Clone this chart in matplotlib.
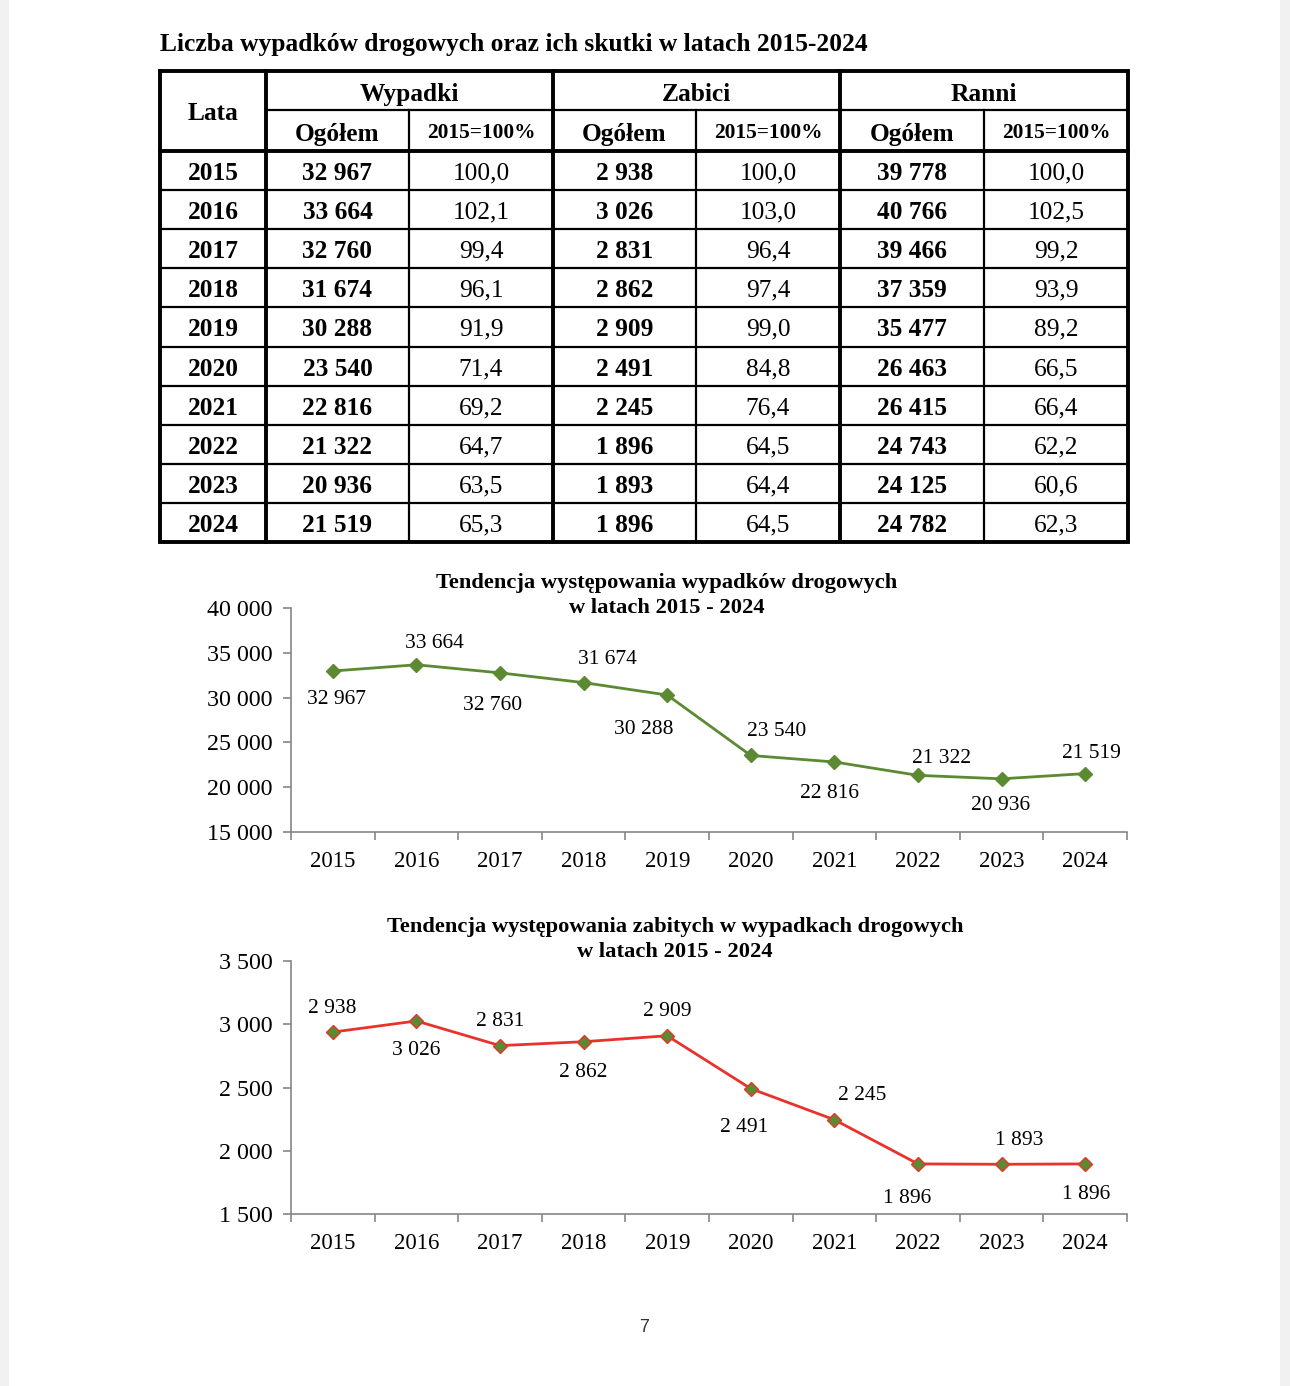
import numpy as np
import matplotlib
matplotlib.use("Agg")
import matplotlib.pyplot as plt
from matplotlib.patches import Rectangle

plt.rcParams['font.family'] = ['Liberation Serif', 'DejaVu Serif']

# --- data ---
years = [2015, 2016, 2017, 2018, 2019, 2020, 2021, 2022, 2023, 2024]
wypadki = [32967, 33664, 32760, 31674, 30288, 23540, 22816, 21322, 20936, 21519]
wypadki_pct = [100.0, 102.1, 99.4, 96.1, 91.9, 71.4, 69.2, 64.7, 63.5, 65.3]
zabici = [2938, 3026, 2831, 2862, 2909, 2491, 2245, 1896, 1893, 1896]
zabici_pct = [100.0, 103.0, 96.4, 97.4, 99.0, 84.8, 76.4, 64.5, 64.4, 64.5]
ranni = [39778, 40766, 39466, 37359, 35477, 26463, 26415, 24743, 24125, 24782]
ranni_pct = [100.0, 102.5, 99.2, 93.9, 89.2, 66.5, 66.4, 62.2, 60.6, 62.3]


def fmt_int(v):
    return f"{v:,.0f}".replace(",", " ")


def fmt_pct(v):
    return f"{v:.1f}".replace(".", ",")


W, H = 1290, 1386
fig = plt.figure(figsize=(W / 100, H / 100), dpi=100)
fig.patch.set_facecolor('white')

# page overlay in pixel coords
pg = fig.add_axes([0, 0, 1, 1])
pg.set_xlim(0, W)
pg.set_ylim(H, 0)
pg.axis('off')
pg.add_patch(Rectangle((0, 0), 9, H, color='#f1f1f1', lw=0))
pg.add_patch(Rectangle((1280, 0), 10, H, color='#f1f1f1', lw=0))

pg.text(160, 45, "Liczba wypadków drogowych oraz ich skutki w latach 2015-2024",
        fontsize=18.4, fontweight='bold', va='center', ha='left')

# --- table ---
col_x = [160, 266, 409, 553, 696, 840, 984, 1128]
top, h1, h2 = 71, 110, 151
row_h = (542 - 151) / 10
bottom = h2 + row_h * 10
thick, thin = 2.8, 1.6
fs = 18.3

pg.plot([col_x[0], col_x[-1], col_x[-1], col_x[0], col_x[0]],
        [top, top, bottom, bottom, top], color='black', lw=thick, solid_joinstyle='miter')
for x in (266, 553, 840):
    pg.plot([x, x], [top, bottom], color='black', lw=thick)
for x in (409, 696, 984):
    pg.plot([x, x], [h1, bottom], color='black', lw=thin)
pg.plot([266, 1128], [h1, h1], color='black', lw=thin)
pg.plot([160, 1128], [h2, h2], color='black', lw=thick)
for i in range(1, 10):
    y = h2 + row_h * i
    pg.plot([160, 1128], [y, y], color='black', lw=thin)

pg.text((160 + 266) / 2, (top + h2) / 2 + 3, "Lata", fontsize=fs, fontweight='bold',
        ha='center', va='center')
for name, (a, b) in zip(["Wypadki", "Zabici", "Ranni"], [(266, 553), (553, 840), (840, 1128)]):
    pg.text((a + b) / 2, (top + h1) / 2 + 4, name, fontsize=fs, fontweight='bold',
            ha='center', va='center')
for j in range(3):
    c = 1 + 2 * j
    pg.text((col_x[c] + col_x[c + 1]) / 2, (h1 + h2) / 2 + 4, "Ogółem", fontsize=fs,
            fontweight='bold', ha='center', va='center')
    pg.text((col_x[c + 1] + col_x[c + 2]) / 2, (h1 + h2) / 2 + 3, "2015=100%", fontsize=15.4,
            fontweight='bold', ha='center', va='center')

for i, yr in enumerate(years):
    yc = h2 + row_h * (i + 0.5) + 3
    cells = [(str(yr), 'bold'), (fmt_int(wypadki[i]), 'bold'), (fmt_pct(wypadki_pct[i]), 'normal'),
             (fmt_int(zabici[i]), 'bold'), (fmt_pct(zabici_pct[i]), 'normal'),
             (fmt_int(ranni[i]), 'bold'), (fmt_pct(ranni_pct[i]), 'normal')]
    for k, (txt, wt) in enumerate(cells):
        pg.text((col_x[k] + col_x[k + 1]) / 2, yc, txt, fontsize=fs, fontweight=wt,
                ha='center', va='center')


# --- charts ---
def line_chart(top_px, bot_px, values, ymin, ymax, step, color, mfc, title, title_y, offsets, tcx):
    ax = fig.add_axes([291 / W, 1 - bot_px / H, (1127 - 291) / W, (bot_px - top_px) / H])
    x = np.arange(len(years))
    ax.plot(x, values, color=color, lw=2, marker='D', ms=7, mfc=mfc, mec=color, mew=1)
    ax.set_xlim(-0.5, len(years) - 0.5)
    ax.set_ylim(ymin, ymax)
    ax.set_yticks(np.arange(ymin, ymax + 1, step))
    ax.set_yticklabels([fmt_int(v) for v in np.arange(ymin, ymax + 1, step)], fontsize=17.3)
    ax.set_xticks(np.arange(-0.5, len(years)), labels=[])
    ax.set_xticks(x, labels=[str(y) for y in years], minor=True)
    ax.tick_params(axis='x', which='minor', length=0, labelsize=16.4, pad=14)
    ax.tick_params(axis='both', which='major', length=6, color='#868686', width=1.2)
    ax.tick_params(axis='y', pad=7)
    for s in ('top', 'right'):
        ax.spines[s].set_visible(False)
    for s in ('left', 'bottom'):
        ax.spines[s].set_color('#868686')
        ax.spines[s].set_linewidth(1.2)
    ax.patch.set_alpha(0)
    for xi, v, (dx, dy) in zip(x, values, offsets):
        ax.annotate(fmt_int(v), (xi, v), xytext=(dx * 0.72, -dy * 0.72), textcoords='offset points',
                    ha='center', va='center', fontsize=15.5)
    pg.text(tcx, title_y, title[0], fontsize=16.2, fontweight='bold', ha='center', va='center')
    pg.text(tcx, title_y + 25, title[1], fontsize=16.2, fontweight='bold', ha='center', va='center')
    return ax


off1 = [(4, 28), (18, -21), (-7, 33), (24, -23), (-23, 34), (26, -24), (-5, 32), (23, -17), (-1, 27), (6, -20)]
line_chart(608, 832, wypadki, 15000, 40000, 5000, '#5b8a32', '#5b8a32',
           ["Tendencja występowania wypadków drogowych", "w latach 2015 - 2024"], 583, off1, 667)

off2 = [(-1, -24), (0, 30), (0, -24), (0, 31), (0, -24), (-7, 39), (28, -24), (-11, 35), (18, -24), (1, 31)]
line_chart(961, 1214, zabici, 1500, 3500, 500, '#e8322b', '#5b8a32',
           ["Tendencja występowania zabitych w wypadkach drogowych", "w latach 2015 - 2024"], 927, off2, 675)

pg.text(644, 1327, "7", fontsize=13, family=['Liberation Sans', 'DejaVu Sans'], color='#333333',
        ha='center', va='center')

fig.savefig('out.png', dpi=100, facecolor='white')
